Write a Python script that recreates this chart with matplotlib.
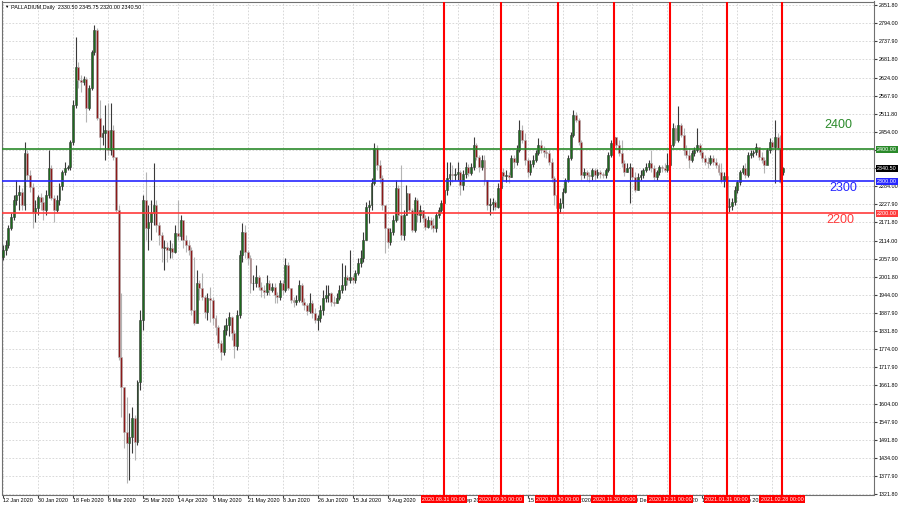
import matplotlib
matplotlib.use("Agg")
import matplotlib.pyplot as plt
import matplotlib.transforms as mtransforms
import numpy as np

plt.rcParams['font.family'] = ['Liberation Sans', 'DejaVu Sans']

# --- data ---
symbol = "PALLADIUM,Daily"
last_ohlc = [2330.50, 2345.75, 2320.00, 2340.50]   # header values of the last bar
first_open = 2063

closes = [
    2085, 2101, 2154, 2188, 2242, 2257, 2267, 2226, 2389, 2320,
    2282, 2204, 2217, 2251, 2235, 2210, 2257, 2342, 2248, 2210,
    2242, 2285, 2329, 2342, 2345, 2423, 2539, 2658, 2617, 2611,
    2620, 2529, 2592, 2705, 2774, 2498, 2439, 2451, 2461, 2398,
    2461, 2376, 2210, 1750, 1656, 1515, 1481, 1500, 1559, 1484,
    1672, 1866, 2242, 2154, 2173, 2201, 2226, 2163, 2132, 2091,
    2094, 2085, 2091, 2079, 2138, 2129, 2179, 2117, 2101, 2085,
    1897, 1857, 1982, 1966, 1938, 1891, 1935, 1929, 1872, 1844,
    1794, 1766, 1835, 1851, 1875, 1825, 1785, 1882, 2070, 2141,
    2079, 2060, 1982, 1982, 2001, 1969, 1960, 1954, 1982, 1960,
    1969, 1944, 1938, 1982, 1960, 2038, 1966, 1929, 1922, 1929,
    1976, 1922, 1913, 1894, 1919, 1888, 1866, 1872, 1897, 1935,
    1944, 1951, 1922, 1919, 1935, 1960, 1976, 2001, 1991, 2001,
    1991, 2013, 2045, 2060, 2117, 2220, 2226, 2295, 2404, 2351,
    2310, 2226, 2154, 2110, 2141, 2179, 2279, 2195, 2132, 2195,
    2263, 2210, 2148, 2242, 2195, 2210, 2185, 2157, 2179, 2163,
    2154, 2195, 2210, 2232, 2273, 2310, 2323, 2320, 2323, 2329,
    2288, 2323, 2345, 2326, 2345, 2414, 2376, 2345, 2367, 2304,
    2226, 2229, 2235, 2220, 2279, 2329, 2317, 2320, 2313, 2373,
    2360, 2398, 2461, 2429, 2367, 2329, 2354, 2367, 2389, 2414,
    2398, 2392, 2389, 2360, 2310, 2257, 2217, 2232, 2267, 2304,
    2373, 2445, 2507, 2492, 2423, 2320, 2329, 2320, 2317, 2335,
    2320, 2329, 2323, 2320, 2335, 2382, 2420, 2439, 2414, 2389,
    2357, 2329, 2342, 2345, 2313, 2273, 2313, 2320, 2335, 2345,
    2357, 2342, 2313, 2329, 2345, 2342, 2335, 2351, 2414, 2467,
    2429, 2476, 2445, 2398, 2382, 2367, 2389, 2398, 2414, 2392,
    2373, 2360, 2357, 2373, 2360, 2351, 2329, 2304, 2317, 2220,
    2223, 2235, 2273, 2298, 2329, 2342, 2320, 2382, 2389, 2392,
    2407, 2376, 2367, 2351, 2398, 2423, 2407, 2439, 2404, 2298,
    2340.5,
]

highs = [
    2101, 2117, 2163, 2201, 2257, 2304, 2288, 2279, 2423, 2398,
    2335, 2295, 2242, 2257, 2263, 2251, 2273, 2398, 2351, 2257,
    2257, 2295, 2335, 2360, 2351, 2429, 2554, 2751, 2673, 2633,
    2630, 2626, 2601, 2711, 2789, 2780, 2554, 2476, 2539, 2545,
    2545, 2476, 2357, 2226, 1951, 1647, 1625, 1575, 1594, 1569,
    1678, 1897, 2257, 2329, 2226, 2242, 2357, 2242, 2173, 2141,
    2117, 2110, 2117, 2107, 2163, 2242, 2195, 2157, 2132, 2117,
    2094, 2063, 2023, 1991, 2013, 1944, 1951, 1969, 1938, 1882,
    1851, 1804, 1851, 1872, 1891, 1879, 1835, 1897, 2085, 2170,
    2163, 2085, 2070, 2007, 2038, 2007, 1985, 1976, 2007, 1991,
    1982, 1982, 1954, 1991, 1991, 2060, 2048, 1966, 1938, 1944,
    1991, 1982, 1935, 1919, 1951, 1929, 1904, 1882, 1913, 1960,
    1976, 1976, 1954, 1941, 1951, 1976, 2045, 2038, 2007, 2085,
    2007, 2023, 2060, 2085, 2141, 2235, 2242, 2310, 2420, 2414,
    2367, 2320, 2210, 2154, 2154, 2195, 2304, 2288, 2351, 2210,
    2288, 2257, 2217, 2251, 2248, 2226, 2204, 2195, 2192, 2188,
    2185, 2204, 2220, 2242, 2304, 2361, 2361, 2351, 2342, 2361,
    2335, 2335, 2360, 2354, 2357, 2439, 2420, 2382, 2382, 2382,
    2304, 2248, 2248, 2242, 2295, 2342, 2342, 2335, 2329, 2382,
    2382, 2414, 2492, 2476, 2451, 2373, 2367, 2382, 2398, 2436,
    2429, 2411, 2404, 2398, 2373, 2317, 2263, 2248, 2279, 2310,
    2382, 2454, 2523, 2517, 2498, 2429, 2342, 2335, 2329, 2342,
    2342, 2338, 2335, 2329, 2342, 2392, 2429, 2445, 2439, 2429,
    2429, 2367, 2357, 2357, 2335, 2329, 2326, 2335, 2342, 2357,
    2367, 2398, 2351, 2335, 2351, 2351, 2357, 2389, 2420, 2482,
    2476, 2535, 2482, 2467, 2414, 2404, 2398, 2407, 2467, 2420,
    2398, 2382, 2376, 2382, 2382, 2373, 2357, 2357, 2329, 2335,
    2248, 2248, 2285, 2304, 2335, 2351, 2357, 2392, 2398, 2398,
    2420, 2398, 2392, 2376, 2404, 2436, 2429, 2492, 2451, 2445,
    2345.75,
]

lows = [
    2054, 2070, 2091, 2148, 2179, 2226, 2210, 2210, 2210, 2304,
    2267, 2154, 2173, 2195, 2210, 2179, 2195, 2248, 2242, 2173,
    2204, 2226, 2273, 2320, 2335, 2335, 2414, 2529, 2592, 2580,
    2601, 2486, 2523, 2586, 2695, 2492, 2398, 2414, 2367, 2382,
    2382, 2367, 2204, 1741, 1563, 1465, 1356, 1365, 1450, 1428,
    1475, 1647, 1835, 2117, 2085, 2117, 2163, 2141, 2101, 2048,
    2023, 2048, 2060, 2060, 2076, 2117, 2117, 2091, 2079, 2070,
    1882, 1851, 1882, 1929, 1929, 1872, 1866, 1860, 1851, 1819,
    1778, 1741, 1757, 1819, 1816, 1804, 1747, 1772, 1872, 2048,
    2060, 2038, 1951, 1960, 1969, 1960, 1938, 1935, 1944, 1944,
    1954, 1919, 1919, 1929, 1944, 1954, 1960, 1919, 1907, 1913,
    1922, 1913, 1897, 1882, 1888, 1872, 1857, 1835, 1860, 1882,
    1922, 1922, 1910, 1910, 1919, 1929, 1951, 1960, 1976, 1982,
    1982, 1982, 2007, 2032, 2048, 2117, 2170, 2210, 2288, 2335,
    2295, 2210, 2076, 2091, 2101, 2132, 2173, 2179, 2117, 2117,
    2195, 2204, 2141, 2141, 2173, 2173, 2173, 2148, 2154, 2151,
    2141, 2141, 2185, 2204, 2226, 2257, 2288, 2298, 2304, 2304,
    2257, 2273, 2310, 2317, 2320, 2335, 2367, 2329, 2335, 2288,
    2210, 2195, 2210, 2210, 2217, 2273, 2304, 2298, 2295, 2313,
    2342, 2351, 2392, 2420, 2351, 2313, 2320, 2345, 2360, 2382,
    2389, 2376, 2373, 2351, 2298, 2226, 2204, 2201, 2217, 2263,
    2298, 2367, 2439, 2486, 2414, 2304, 2310, 2304, 2298, 2304,
    2304, 2310, 2310, 2310, 2310, 2329, 2376, 2407, 2404, 2379,
    2345, 2317, 2329, 2232, 2304, 2267, 2273, 2304, 2310, 2329,
    2335, 2329, 2304, 2304, 2320, 2329, 2329, 2329, 2345, 2407,
    2420, 2423, 2439, 2382, 2373, 2342, 2360, 2379, 2392, 2382,
    2360, 2351, 2342, 2351, 2351, 2342, 2320, 2295, 2282, 2204,
    2204, 2210, 2226, 2263, 2288, 2323, 2310, 2313, 2373, 2376,
    2382, 2367, 2357, 2326, 2367, 2389, 2398, 2295, 2398, 2295,
    2320,
]

# time axis labels, one every 13 bars
date_step = 13
date_labels = ["12 Jan 2020", "30 Jan 2020", "18 Feb 2020", "6 Mar 2020",
               "25 Mar 2020", "14 Apr 2020", "3 May 2020", "21 May 2020",
               "8 Jun 2020", "26 Jun 2020", "15 Jul 2020", "3 Aug 2020",
               "21 Aug 2020", "9 Sep 2020", "28 Sep 2020", "15 Oct 2020",
               "2 Nov 2020", "19 Nov 2020", "10 Dec 2020", "29 Dec 2020",
               "18 Jan 2021", "4 Feb 2021", "23 Feb 2021"]

# month-end vertical lines (bar position, label)
month_end_pos = [163.9, 185.1, 206.3, 227.1, 248.0, 269.1, 289.6]
month_end_labels = ["2020.08.31 00:00", "2020.09.30 00:00", "2020.10.30 00:00",
                    "2020.11.30 00:00", "2020.12.31 00:00", "2021.01.31 00:00",
                    "2021.02.28 00:00"]

levels = [2400, 2300, 2200]
level_colors = ["#2a8a2a", "#2626ff", "#ff3b3b"]
level_text_x = [0.9587, 0.9644, 0.9610]
level_text_dy = [76, -21, -21]

price_ticks = [1321.8, 1377.9, 1434.0, 1491.8, 1547.9, 1604.0, 1661.8, 1717.9,
               1774.0, 1831.8, 1887.9, 1944.0, 2001.8, 2057.9, 2114.0, 2171.8,
               2227.9, 2284.0, 2341.8, 2397.9, 2454.0, 2511.8, 2567.9, 2624.0,
               2681.8, 2737.9, 2794.0, 2851.8]

# --- build candles ---
c = np.array(closes, dtype=float)
h = np.array(highs, dtype=float)
l = np.array(lows, dtype=float)
o = np.array([first_open] + closes[:-1], dtype=float)
o[-1] = last_ohlc[0]
x = np.arange(len(c))
up = c >= o

fig = plt.figure(figsize=(9, 5.07), dpi=100)
fig.patch.set_facecolor("white")
ax = fig.add_axes([2 / 900, 1 - 494.5 / 507, 872 / 900, 493 / 507])
ax.set_xlim(-0.37, 323.8)
ax.set_ylim(1320.2, 2862.8)

bull_wick, bear_wick = "#3a3a3a", "#b4b4b4"
ax.vlines(x[up], l[up], h[up], color=bull_wick, lw=0.8, zorder=2)
ax.vlines(x[~up], l[~up], h[~up], color=bear_wick, lw=0.8, zorder=2)
ax.bar(x[up], (c - o)[up], bottom=o[up], width=0.72, color="#1d6b1d",
       edgecolor=bull_wick, linewidth=0.4, zorder=3)
ax.bar(x[~up], (o - c)[~up], bottom=c[~up], width=0.72, color="#8c1a1a",
       edgecolor=bear_wick, linewidth=0.4, zorder=3)

# support / resistance levels
trans_y = mtransforms.blended_transform_factory(ax.transAxes, ax.transData)
for lv, col, tx, dy in zip(levels, level_colors, level_text_x, level_text_dy):
    ax.axhline(lv, color=col, lw=1.2, zorder=4)
    ax.text(tx, lv + dy, str(lv), transform=trans_y, color=col, fontsize=9,
            ha="center", va="center", zorder=6)
    ax.text(1.0035, lv, f"{lv:.2f}", transform=trans_y, color="white",
            fontsize=3.9, ha="left", va="center", clip_on=False, zorder=10,
            bbox=dict(boxstyle="square,pad=0.2", fc=col, ec="none"))

# current price tag
ax.text(1.0035, last_ohlc[3], f"{last_ohlc[3]:.2f}", transform=trans_y,
        color="white", fontsize=3.9, ha="left", va="center", clip_on=False,
        zorder=10, bbox=dict(boxstyle="square,pad=0.2", fc="black", ec="none"))

# month-end vertical lines
trans_x = mtransforms.blended_transform_factory(ax.transData, ax.transAxes)
for pos, lab in zip(month_end_pos, month_end_labels):
    ax.axvline(pos, color="#ff0000", lw=1.5, zorder=5)
    ax.text(pos, -0.0095, lab, transform=trans_x, color="white", fontsize=3.9,
            ha="center", va="center", clip_on=False, zorder=10,
            bbox=dict(boxstyle="square,pad=0.3", fc="#ff0000", ec="none"))

# axes cosmetics
ax.yaxis.tick_right()
ax.set_yticks(price_ticks)
ax.set_yticklabels([f"{v:.2f}" for v in price_ticks])
xt = np.arange(len(date_labels)) * date_step
ax.set_xticks(xt)
ax.set_xticklabels(date_labels)
for lbl in ax.get_xticklabels():
    lbl.set_horizontalalignment("left")
ax.tick_params(axis="y", labelsize=3.9, length=2, pad=1.5, color="#404040")
ax.tick_params(axis="x", labelsize=3.9, length=2, pad=0.3, color="#404040")
ax.grid(True, color="#d2d2d2", linestyle=(0, (2, 2)), lw=0.6)
ax.set_axisbelow(True)
for sp in ax.spines.values():
    sp.set_color("#707070")
    sp.set_linewidth(0.8)

fig.text(4 / 900, 1 - 7 / 507, "\u25bc", fontsize=3.2, va="center")
fig.text(11 / 900, 1 - 7 / 507,
         f"{symbol}  " + " ".join(f"{v:.2f}" for v in last_ohlc),
         fontsize=3.9, va="center")

fig.savefig("out.png", dpi=100, facecolor="white")
